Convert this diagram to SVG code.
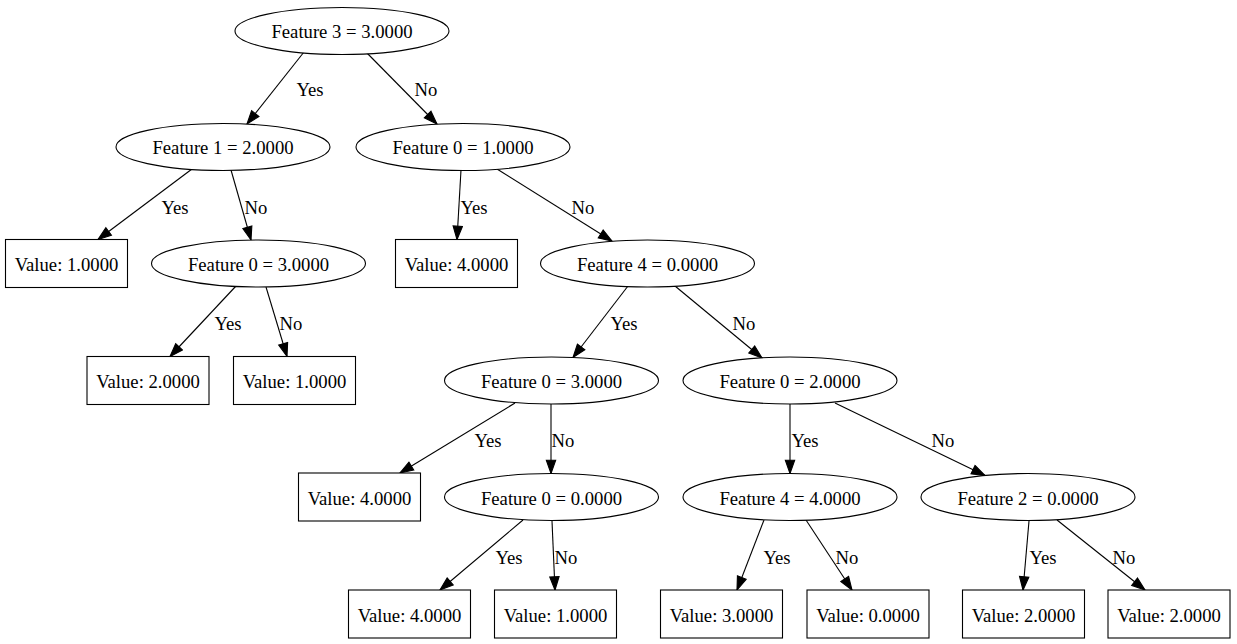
<svg xmlns="http://www.w3.org/2000/svg" width="1237" height="644" viewBox="0 0 1237 644">
  <defs>
    <style>
      text { font-family: "Liberation Serif", "Times New Roman", serif; font-size: 18.67px; fill: #000; }
      .node text { text-anchor: middle; }
      .node ellipse, .node rect { fill: #fff; stroke: #000; stroke-width: 1.1; }
      .edges line { stroke: #000; stroke-width: 1.1; marker-end: url(#arrow); }
      .edges text { text-anchor: middle; }
    </style>
    <marker id="arrow" markerUnits="userSpaceOnUse" markerWidth="16" markerHeight="12" viewBox="0 0 16 12" refX="14.3" refY="5.67" orient="auto">
      <path d="M1,1 L14.3,5.67 L1,10.33 Z" fill="#000" stroke="#000" stroke-width="1.1"/>
    </marker>
  </defs>
  <rect width="1237" height="644" fill="#fff"/>

  <!-- connectors (drawn first so nodes cover their roots) -->
  <g id="edges" class="edges">
    <line x1="304" y1="52" x2="247" y2="124"/><text x="310" y="96">Yes</text>
    <line x1="366" y1="52" x2="437" y2="124"/><text x="426" y="96">No</text>
    <line x1="192" y1="169" x2="98" y2="239.5"/><text x="175" y="214">Yes</text>
    <line x1="231" y1="170" x2="251" y2="240"/><text x="256" y="214">No</text>
    <line x1="461" y1="170" x2="457" y2="239.5"/><text x="474" y="214">Yes</text>
    <line x1="497" y1="169" x2="612" y2="241"/><text x="583" y="214">No</text>
    <line x1="236" y1="286" x2="170" y2="356.5"/><text x="228" y="330">Yes</text>
    <line x1="266" y1="287" x2="287" y2="356.5"/><text x="291" y="330">No</text>
    <line x1="628" y1="286" x2="573" y2="357.5"/><text x="624" y="330">Yes</text>
    <line x1="675" y1="286" x2="762" y2="358"/><text x="744" y="330">No</text>
    <line x1="515" y1="403" x2="400" y2="473"/><text x="488" y="447">Yes</text>
    <line x1="551" y1="404" x2="551" y2="473.5"/><text x="563" y="447">No</text>
    <line x1="790" y1="404" x2="790" y2="473.5"/><text x="805" y="447">Yes</text>
    <line x1="835" y1="403" x2="985" y2="475.5"/><text x="943" y="447">No</text>
    <line x1="523" y1="520" x2="440" y2="590"/><text x="509" y="564">Yes</text>
    <line x1="552" y1="521" x2="555" y2="590"/><text x="566" y="564">No</text>
    <line x1="764" y1="520" x2="737" y2="590"/><text x="777" y="564">Yes</text>
    <line x1="806" y1="520" x2="852" y2="590"/><text x="847" y="564">No</text>
    <line x1="1029" y1="521" x2="1023" y2="590"/><text x="1043" y="564">Yes</text>
    <line x1="1057" y1="520" x2="1145" y2="590"/><text x="1124" y="564">No</text>
  </g>

  <!-- decision nodes -->
  <g id="n0" class="node"><ellipse cx="342" cy="31" rx="107" ry="23.5"/><text x="342" y="38">Feature 3 = 3.0000</text></g>
  <g id="n1" class="node"><ellipse cx="223" cy="147" rx="107" ry="23.5"/><text x="223" y="154">Feature 1 = 2.0000</text></g>
  <g id="n2" class="node"><ellipse cx="463" cy="147" rx="107" ry="23.5"/><text x="463" y="154">Feature 0 = 1.0000</text></g>
  <g id="n3" class="node"><rect x="5.5" y="239.5" width="122" height="48"/><text x="66.5" y="271">Value: 1.0000</text></g>
  <g id="n4" class="node"><ellipse cx="258.5" cy="263.5" rx="107" ry="23.5"/><text x="258.5" y="271">Feature 0 = 3.0000</text></g>
  <g id="n5" class="node"><rect x="395.5" y="239.5" width="122" height="48"/><text x="456.5" y="271">Value: 4.0000</text></g>
  <g id="n6" class="node"><ellipse cx="647.5" cy="263.5" rx="107" ry="23.5"/><text x="647.5" y="271">Feature 4 = 0.0000</text></g>
  <g id="n7" class="node"><rect x="87" y="356.5" width="122" height="48"/><text x="148" y="388">Value: 2.0000</text></g>
  <g id="n8" class="node"><rect x="233.5" y="356.5" width="122" height="48"/><text x="294.5" y="388">Value: 1.0000</text></g>
  <g id="n9" class="node"><ellipse cx="551.5" cy="380.5" rx="107" ry="23.5"/><text x="551.5" y="388">Feature 0 = 3.0000</text></g>
  <g id="n10" class="node"><ellipse cx="790" cy="380.5" rx="107" ry="23.5"/><text x="790" y="388">Feature 0 = 2.0000</text></g>
  <g id="n11" class="node"><rect x="298.5" y="473" width="122" height="48"/><text x="359.5" y="504.5">Value: 4.0000</text></g>
  <g id="n12" class="node"><ellipse cx="551.5" cy="497" rx="107" ry="23.5"/><text x="551.5" y="504.5">Feature 0 = 0.0000</text></g>
  <g id="n13" class="node"><ellipse cx="790" cy="497" rx="107" ry="23.5"/><text x="790" y="504.5">Feature 4 = 4.0000</text></g>
  <g id="n14" class="node"><ellipse cx="1028" cy="497" rx="107" ry="23.5"/><text x="1028" y="504.5">Feature 2 = 0.0000</text></g>

  <!-- leaf nodes on the bottom row -->
  <g id="n15" class="node"><rect x="348.5" y="590" width="122" height="48"/><text x="409.5" y="621.5">Value: 4.0000</text></g>
  <g id="n16" class="node"><rect x="494.5" y="590" width="122" height="48"/><text x="555.5" y="621.5">Value: 1.0000</text></g>
  <g id="n17" class="node"><rect x="660.5" y="590" width="122" height="48"/><text x="721.5" y="621.5">Value: 3.0000</text></g>
  <g id="n18" class="node"><rect x="807" y="590" width="122" height="48"/><text x="868" y="621.5">Value: 0.0000</text></g>
  <g id="n19" class="node"><rect x="962.5" y="590" width="122" height="48"/><text x="1023.5" y="621.5">Value: 2.0000</text></g>
  <g id="n20" class="node"><rect x="1108" y="590" width="122" height="48"/><text x="1169" y="621.5">Value: 2.0000</text></g>
</svg>
